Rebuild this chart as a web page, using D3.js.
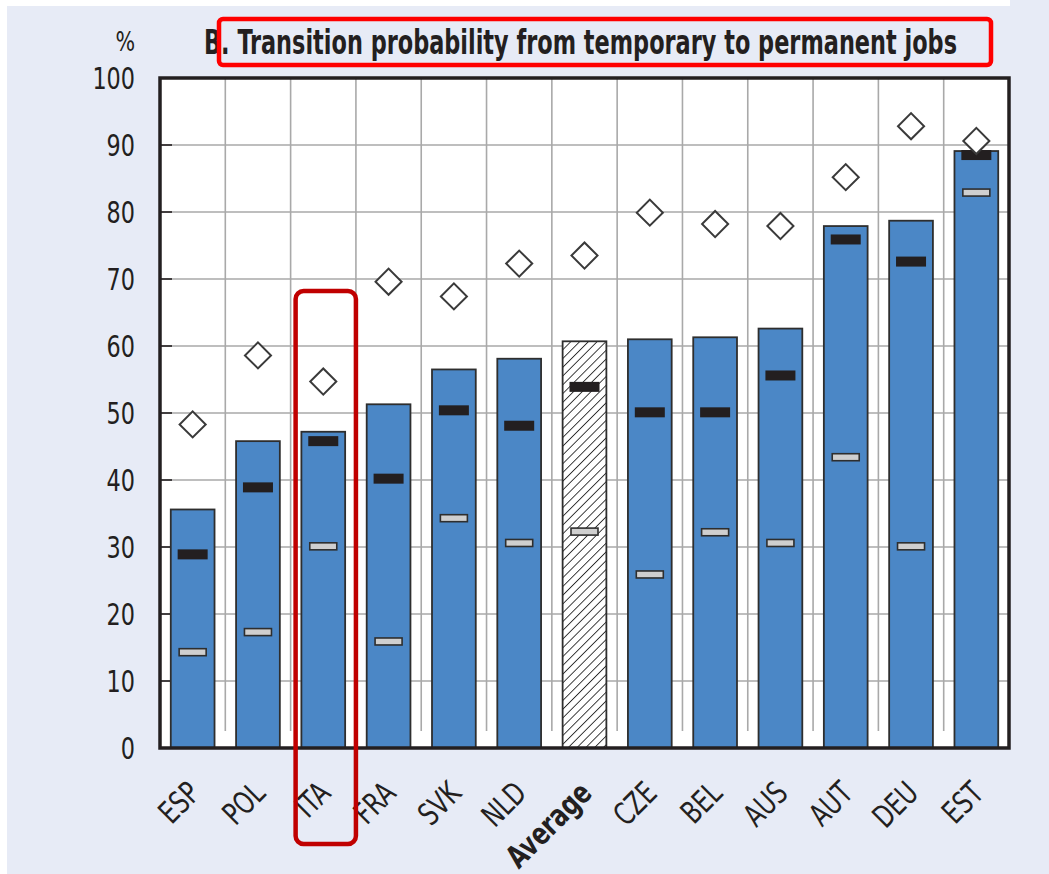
<!DOCTYPE html>
<html>
<head>
<meta charset="utf-8">
<title>Transition probability</title>
<script src="https://d3js.org/d3.v7.min.js"></script>
<style>
  body { margin: 0; background: #e7ebf6; }
  svg text { font-family: "Liberation Sans Narrow", "DejaVu Sans Condensed", sans-serif; fill: #231f20; }
</style>
</head>
<body>
<svg id="chart" width="1049" height="874"></svg>
<script>
// values (per cent)
var countries = ["ESP", "POL", "ITA", "FRA", "SVK", "NLD", "Average", "CZE", "BEL", "AUS", "AUT", "DEU", "EST"];
var barValues = [35.6, 45.8, 47.2, 51.3, 56.5, 58.1, 60.7, 61.0, 61.3, 62.6, 77.9, 78.7, 89.1];
var blackMarks = [28.9, 38.9, 45.8, 40.2, 50.4, 48.1, 53.9, 50.1, 50.1, 55.6, 75.9, 72.6, 88.5];
var greyMarks = [14.3, 17.3, 30.1, 15.9, 34.3, 30.6, 32.3, 25.9, 32.2, 30.6, 43.4, 30.1, 82.9];
var diamonds = [48.3, 58.6, 54.7, 69.6, 67.4, 72.3, 73.5, 79.9, 78.2, 77.9, 85.2, 92.8, 90.6];
var yTicks = [0, 10, 20, 30, 40, 50, 60, 70, 80, 90, 100];

var svg = d3.select("#chart");
var plotL = 160, plotR = 1009, plotT = 78, plotB = 748;

var x = d3.scaleBand().domain(countries).range([plotL, plotR]).paddingInner(0.33).paddingOuter(0.165);
var xb = d3.scaleBand().domain(countries).range([plotL, plotR]);
var y = d3.scaleLinear().domain([0, 100]).range([plotB, plotT]);

// white strips at the page edge
svg.append("rect").attr("x", 0).attr("y", 0).attr("width", 1010).attr("height", 6).attr("fill", "#fff");
svg.append("rect").attr("x", 0).attr("y", 0).attr("width", 7).attr("height", 874).attr("fill", "#fff");

var defs = svg.append("defs");
var pat = defs.append("pattern")
    .attr("id", "hatch")
    .attr("patternUnits", "userSpaceOnUse")
    .attr("width", 6.2).attr("height", 6.2)
    .attr("patternTransform", "rotate(45)");
pat.append("rect").attr("width", 6.2).attr("height", 6.2).attr("fill", "#fff");
pat.append("line").attr("x1", 0).attr("y1", 0).attr("x2", 0).attr("y2", 6.2)
    .attr("stroke", "#2b2b2b").attr("stroke-width", 1.8);

// plot area
svg.append("rect").attr("x", plotL).attr("y", plotT)
    .attr("width", plotR - plotL).attr("height", plotB - plotT).attr("fill", "#fff");

// grid
svg.append("g").selectAll("line").data(yTicks.slice(1, -1)).join("line")
    .attr("x1", plotL).attr("x2", plotR)
    .attr("y1", d => y(d)).attr("y2", d => y(d))
    .attr("stroke", "#a9a9a9").attr("stroke-width", 1.6);
svg.append("g").selectAll("line").data(countries.slice(1)).join("line")
    .attr("x1", d => xb(d)).attr("x2", d => xb(d))
    .attr("y1", plotT).attr("y2", plotB - 17)
    .attr("stroke", "#a9a9a9").attr("stroke-width", 1.6);

// left tick marks
svg.append("g").selectAll("line").data(yTicks).join("line")
    .attr("x1", plotL).attr("x2", plotL + 12)
    .attr("y1", d => y(d)).attr("y2", d => y(d))
    .attr("stroke", "#231f20").attr("stroke-width", 1.6);

// bars
svg.append("g").selectAll("rect").data(countries).join("rect")
    .attr("x", d => x(d))
    .attr("y", (d, i) => y(barValues[i]))
    .attr("width", x.bandwidth())
    .attr("height", (d, i) => y(0) - y(barValues[i]))
    .attr("fill", d => d === "Average" ? "url(#hatch)" : "#4b87c6")
    .attr("stroke", "#2e2e2e").attr("stroke-width", 1.8);

// black markers
svg.append("g").selectAll("rect").data(countries).join("rect")
    .attr("x", d => x(d) + x.bandwidth() / 2 - 15)
    .attr("y", (d, i) => y(blackMarks[i]) - 5)
    .attr("width", 30).attr("height", 10)
    .attr("fill", "#231f20");

// grey markers
svg.append("g").selectAll("rect").data(countries).join("rect")
    .attr("x", d => x(d) + x.bandwidth() / 2 - 13.5)
    .attr("y", (d, i) => y(greyMarks[i]) - 3.5)
    .attr("width", 27).attr("height", 7)
    .attr("fill", "#cfcfcf").attr("stroke", "#2e2e2e").attr("stroke-width", 1.6);

// diamonds
var sym = d3.symbol().type(d3.symbolSquare).size(340);
svg.append("g").selectAll("path").data(countries).join("path")
    .attr("d", sym)
    .attr("transform", (d, i) => "translate(" + (x(d) + x.bandwidth() / 2) + "," + y(diamonds[i]) + ") rotate(45)")
    .attr("fill", "#fff").attr("stroke", "#3a3a3a").attr("stroke-width", 2);

// frame
svg.append("rect").attr("x", plotL).attr("y", plotT)
    .attr("width", plotR - plotL).attr("height", plotB - plotT)
    .attr("fill", "none").attr("stroke", "#231f20").attr("stroke-width", 3.5);

// y labels
svg.append("g").selectAll("text").data(yTicks).join("text")
    .attr("transform", d => "translate(135," + y(d) + ") scale(0.8,1)")
    .attr("dy", "0.36em")
    .attr("text-anchor", "end")
    .attr("font-size", 31)
    .text(d => d);
svg.append("text").attr("transform", "translate(135,51) scale(0.85,1)")
    .attr("text-anchor", "end").attr("font-size", 27).text("%");

// x labels
svg.append("g").selectAll("text").data(countries).join("text")
    .attr("transform", d => "translate(" + (x(d) + x.bandwidth() / 2 + 9) + "," + (plotB + 47) + ") rotate(-45) scale(0.82,1)")
    .attr("text-anchor", "end")
    .attr("font-size", 31)
    .attr("font-weight", d => d === "Average" ? "bold" : "normal")
    .text(d => d);

// title
svg.append("text").attr("x", 204).attr("y", 54)
    .attr("font-size", 34).attr("font-weight", "bold")
    .attr("textLength", 753).attr("lengthAdjust", "spacingAndGlyphs")
    .text("B. Transition probability from temporary to permanent jobs");

// annotation boxes
svg.append("rect").attr("x", 219).attr("y", 19).attr("width", 772).attr("height", 46)
    .attr("rx", 4).attr("fill", "none").attr("stroke", "#ff0000").attr("stroke-width", 4.5);
svg.append("rect")
    .attr("x", xb("ITA") + 5).attr("y", 291)
    .attr("width", xb.bandwidth() - 5).attr("height", 553)
    .attr("rx", 8).attr("fill", "none").attr("stroke", "#c00000").attr("stroke-width", 4.5);
</script>
</body>
</html>
